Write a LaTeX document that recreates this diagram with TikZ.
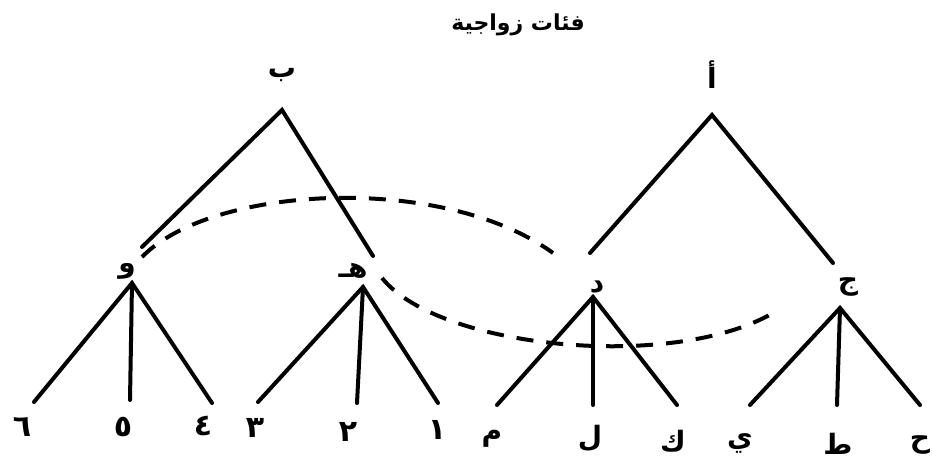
\documentclass[tikz,border=0pt]{standalone}
\usepackage{fontspec}
\TeXXeTstate=1
\newfontfamily\arabicfont[Script=Arabic]{DejaVu Sans}
\begin{document}
\begin{tikzpicture}[x=1pt,y=-1pt,
  branch/.style={line width=4pt,line cap=round},
  link/.style={line width=4pt,dash pattern=on 17pt off 13pt},
  lbl/.style={font=\arabicfont\bfseries\fontsize{28}{32}\selectfont,inner sep=0pt},
  dig/.style={font=\arabicfont\bfseries\fontsize{30}{34}\selectfont,inner sep=0pt},
  ttl/.style={font=\arabicfont\bfseries\fontsize{22}{26}\selectfont,inner sep=0pt}]
\useasboundingbox (0,0) rectangle (932,465);
% title
\node[ttl] (title) at (518,25) {\beginR فئات زواجية\endR};
% top labels
\node[lbl] (B) at (282,75) {\beginR ب\endR};
\node[lbl] (A) at (712,75) {\beginR أ\endR};
% second level labels
\node[lbl] (W) at (127,271) {\beginR و\endR};
\node[lbl] (H) at (353,271) {\beginR هـ\endR};
\node[lbl] (D) at (597,287) {\beginR د\endR};
\node[lbl] (J) at (848,287) {\beginR ج\endR};
% leaves
\node[dig] (n6) at (22,427) {٦};
\node[dig] (n5) at (123,427) {٥};
\node[dig] (n4) at (203,426) {٤};
\node[dig] (n3) at (255,428) {٣};
\node[dig] (n2) at (348,432) {٢};
\node[dig] (n1) at (437,430) {١};
\node[lbl] (lm) at (492,439) {\beginR م\endR};
\node[lbl] (ll) at (590,438) {\beginR ل\endR};
\node[lbl] (lk) at (673,441) {\beginR ك\endR};
\node[lbl] (ly) at (740,443) {\beginR ي\endR};
\node[lbl] (lt) at (838,444) {\beginR ط\endR};
\node[lbl] (lh) at (920,445) {\beginR ح\endR};
% branch points
\coordinate (bTop) at (282,110);
\coordinate (bL) at (142,247);
\coordinate (bR) at (373,256);
\coordinate (aTop) at (712,115);
\coordinate (aL) at (590,253);
\coordinate (aR) at (833,263);
\coordinate (wTop) at (132,283);
\coordinate (hTop) at (363,287);
\coordinate (dTop) at (593,297);
\coordinate (jTop) at (840,308);
\coordinate (e6) at (34,402);
\coordinate (e5) at (130,400);
\coordinate (e4) at (212,403);
\coordinate (e3) at (258,402);
\coordinate (e2) at (357,403);
\coordinate (e1) at (438,403);
\coordinate (em) at (497,405);
\coordinate (el) at (593,405);
\coordinate (ek) at (677,405);
\coordinate (ey) at (750,405);
\coordinate (et) at (837,405);
\coordinate (eh) at (920,405);
% trees
\draw[branch] (bL) -- (bTop) -- (bR);
\draw[branch] (aL) -- (aTop) -- (aR);
\draw[branch] (e6) -- (wTop) -- (e4);
\draw[branch] (wTop) -- (e5);
\draw[branch] (e3) -- (hTop) -- (e1);
\draw[branch] (hTop) -- (e2);
\draw[branch] (em) -- (dTop) -- (ek);
\draw[branch] (dTop) -- (el);
\draw[branch] (ey) -- (jTop) -- (eh);
\draw[branch] (jTop) -- (et);
% dashed links
\coordinate (w1) at (142,257);
\coordinate (d1) at (553,253);
\coordinate (h1) at (382,278);
\coordinate (j1) at (778,310);
\draw[link] (w1) .. controls +(70,-72) and +(-110,-80) .. (d1);
\draw[link] (h1) .. controls +(58,72) and +(-98,62) .. (j1);
\end{tikzpicture}
\end{document}
